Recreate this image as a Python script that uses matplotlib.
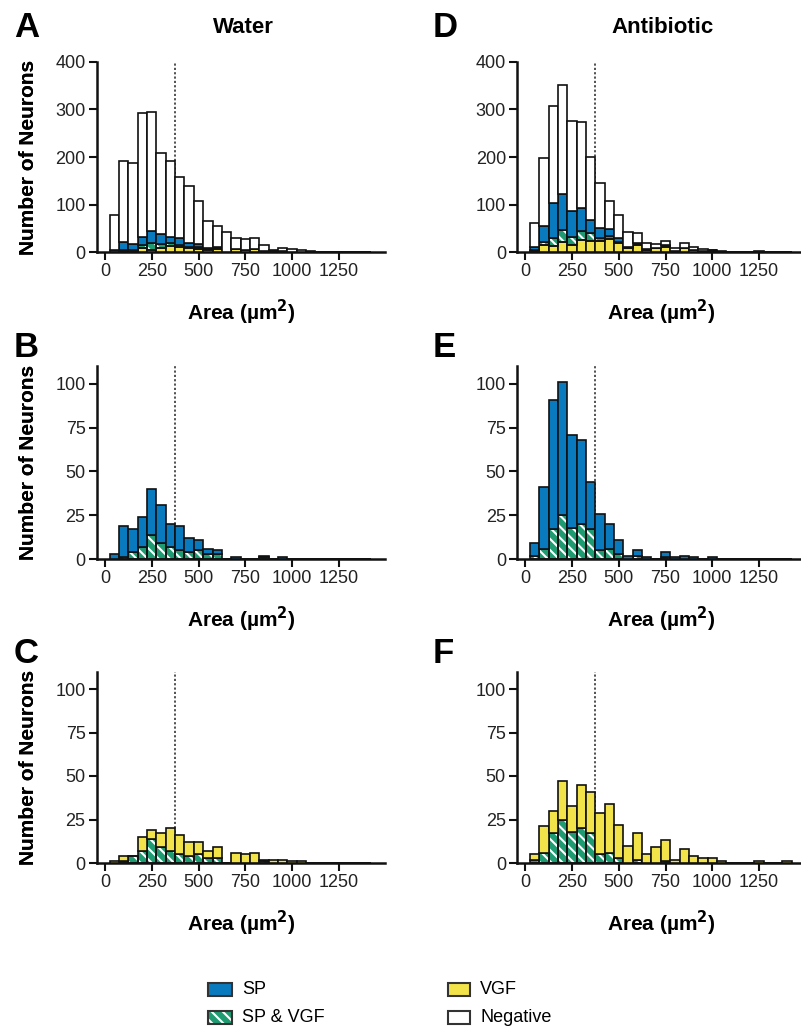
import numpy as np
import matplotlib
matplotlib.use("Agg")
import matplotlib.pyplot as plt
from matplotlib.patches import Rectangle

plt.rcParams['font.family'] = ['Liberation Sans', 'DejaVu Sans']
plt.rcParams['hatch.linewidth'] = 1.5

# ---------------- data ----------------
bin_centers = np.arange(50, 1450, 50)          # soma area bins (um^2), width 50
xticks = [0, 250, 500, 750, 1000, 1250]
threshold = 375

# Water
sp_only_w   = [3, 18, 13, 17, 26, 22, 13, 14, 8, 6, 3, 2, 0, 1, 0, 0, 1, 0, 1, 0, 0, 0, 0, 0, 0, 0, 0, 0]
both_w      = [0, 1, 4, 7, 14, 9, 7, 5, 4, 5, 3, 3, 0, 0, 0, 0, 1, 0, 0, 0, 0, 0, 0, 0, 0, 0, 0, 0]
vgf_only_w  = [1, 3, 0, 8, 5, 8, 13, 11, 8, 7, 4, 6, 0, 6, 5, 6, 1, 2, 2, 1, 1, 0, 0, 0, 0, 0, 0, 0]
negative_w  = [74, 170, 170, 261, 250, 170, 159, 129, 119, 90, 56, 44, 42, 24, 22, 24, 12, 3, 6, 6, 3, 3, 0, 0, 0, 0, 1, 0]

# Antibiotic
sp_only_a   = [7, 35, 74, 76, 53, 48, 27, 21, 14, 8, 2, 3, 1, 0, 3, 1, 2, 1, 0, 1, 0, 0, 0, 0, 0, 0, 0, 0]
both_a      = [2, 6, 17, 25, 18, 20, 17, 5, 6, 3, 0, 2, 0, 0, 1, 0, 0, 0, 0, 0, 0, 0, 0, 0, 0, 0, 0, 0]
vgf_only_a  = [3, 15, 13, 22, 15, 25, 24, 24, 28, 19, 10, 15, 5, 9, 12, 2, 8, 4, 3, 3, 1, 0, 0, 0, 1, 0, 0, 1]
negative_a  = [49, 141, 203, 229, 190, 181, 131, 95, 60, 48, 31, 20, 13, 8, 8, 5, 9, 7, 4, 1, 2, 1, 0, 0, 1, 0, 0, 0]

C_SP = '#0a7abf'
C_VGF = '#f3e34b'
C_BOTH = '#1f9b72'
C_NEG = '#ffffff'
EDGE = '#111111'
LW = 1.2
HATCH = '\\\\\\'

W, H = 801, 1036
fig = plt.figure(figsize=(W / 100, H / 100), dpi=100)


def rect(l, t, r, b):
    return [l / W, 1 - b / H, (r - l) / W, (b - t) / H]


def draw_layer(ax, vals, bottom, kind):
    vals = np.asarray(vals, float)
    if kind == 'both':
        ax.bar(bin_centers, vals, width=50, bottom=bottom, color=C_BOTH,
               edgecolor='white', linewidth=0, hatch=HATCH, zorder=2)
        ax.bar(bin_centers, vals, width=50, bottom=bottom, facecolor='none',
               edgecolor=EDGE, linewidth=LW, zorder=3)
    else:
        col = {'sp': C_SP, 'vgf': C_VGF, 'neg': C_NEG}[kind]
        ax.bar(bin_centers, vals, width=50, bottom=bottom, color=col,
               edgecolor=EDGE, linewidth=LW, zorder=3)
    return bottom + vals


def style_axes(ax, ylim, yticks, left_px, width_px, height_px):
    ax.set_xlim(-45, 1500)
    ax.set_ylim(*ylim)
    ax.set_xticks(xticks)
    ax.set_yticks(yticks)
    for s in ['top', 'right']:
        ax.spines[s].set_visible(False)
    for s in ['left', 'bottom']:
        ax.spines[s].set_linewidth(1.8)
        ax.spines[s].set_color('#111111')
    ax.tick_params(axis='both', direction='out', length=6, width=1.5,
                   labelsize=13, pad=2, color='#111111', labelcolor='#222222')
    ax.axvline(threshold, color='#444444', lw=1.3, ls=(0, (1.2, 1.2)), zorder=1)
    ax.set_xlabel('Area (µm$^\\mathbf{2}$)', fontsize=15, fontweight='bold')
    ax.set_ylabel('Number of Neurons', fontsize=15, fontweight='bold')
    ax.xaxis.set_label_coords(0.5, -46 / height_px)
    ax.yaxis.set_label_coords((38 - left_px) / width_px, 0.5)


panels = {
    'A': (96.7, 61.7, 385.3, 252.3),
    'B': (96.7, 366.5, 385.3, 559.0),
    'C': (96.7, 671.6, 385.3, 863.0),
    'D': (517.0, 61.7, 805.6, 252.3),
    'E': (517.0, 366.5, 805.6, 559.0),
    'F': (517.0, 671.6, 805.6, 863.0),
}

data = {
    'A': (sp_only_w, both_w, vgf_only_w, negative_w),
    'D': (sp_only_a, both_a, vgf_only_a, negative_a),
}

for name, (l, t, r, b) in panels.items():
    ax = fig.add_axes(rect(l, t, r, b))
    zeros = np.zeros(len(bin_centers))
    if name in ('A', 'D'):
        sp, bo, vg, ng = data[name]
        btm = draw_layer(ax, vg, zeros, 'vgf')
        btm = draw_layer(ax, bo, btm, 'both')
        btm = draw_layer(ax, sp, btm, 'sp')
        draw_layer(ax, ng, btm, 'neg')
        style_axes(ax, (0, 400), [0, 100, 200, 300, 400], l, r - l, b - t)
    elif name in ('B', 'E'):
        sp, bo = (sp_only_w, both_w) if name == 'B' else (sp_only_a, both_a)
        btm = draw_layer(ax, bo, zeros, 'both')
        draw_layer(ax, sp, btm, 'sp')
        style_axes(ax, (0, 110), [0, 25, 50, 75, 100], l, r - l, b - t)
    else:
        vg, bo = (vgf_only_w, both_w) if name == 'C' else (vgf_only_a, both_a)
        btm = draw_layer(ax, bo, zeros, 'both')
        draw_layer(ax, vg, btm, 'vgf')
        style_axes(ax, (0, 110), [0, 25, 50, 75, 100], l, r - l, b - t)

# panel letters and column titles
letters = [('A', 14, 37), ('B', 14, 357), ('C', 14, 663),
           ('D', 433, 37), ('E', 433, 357), ('F', 433, 663)]
for txt, x, y in letters:
    fig.text(x / W, 1 - y / H, txt, fontsize=25, fontweight='bold',
             ha='left', va='baseline')
fig.text(243 / W, 1 - 33 / H, 'Water', fontsize=16, fontweight='bold',
         ha='center', va='baseline')
fig.text(663 / W, 1 - 33 / H, 'Antibiotic', fontsize=16, fontweight='bold',
         ha='center', va='baseline')

# legend (manual, in pixel coordinates)
lax = fig.add_axes([0, 0, 1, 1])
lax.set_xlim(0, W)
lax.set_ylim(H, 0)
lax.axis('off')
legend_items = [('SP', 208, 983, 24, C_SP, False),
                ('SP & VGF', 208, 1011, 24, C_BOTH, True),
                ('VGF', 448, 983, 22, C_VGF, False),
                ('Negative', 448, 1011, 22, C_NEG, False)]
for label, x, y, w, col, hatched in legend_items:
    if hatched:
        lax.add_patch(Rectangle((x, y), w, 13, facecolor=col, edgecolor='white',
                                linewidth=0, hatch=HATCH))
        lax.add_patch(Rectangle((x, y), w, 13, facecolor='none', edgecolor='#333333',
                                linewidth=1.5))
    else:
        lax.add_patch(Rectangle((x, y), w, 13, facecolor=col, edgecolor='#333333',
                                linewidth=1.5))
    lax.text(x + w + 10, y + 7, label, fontsize=13, ha='left', va='center')

fig.savefig('out.png', dpi=100)
